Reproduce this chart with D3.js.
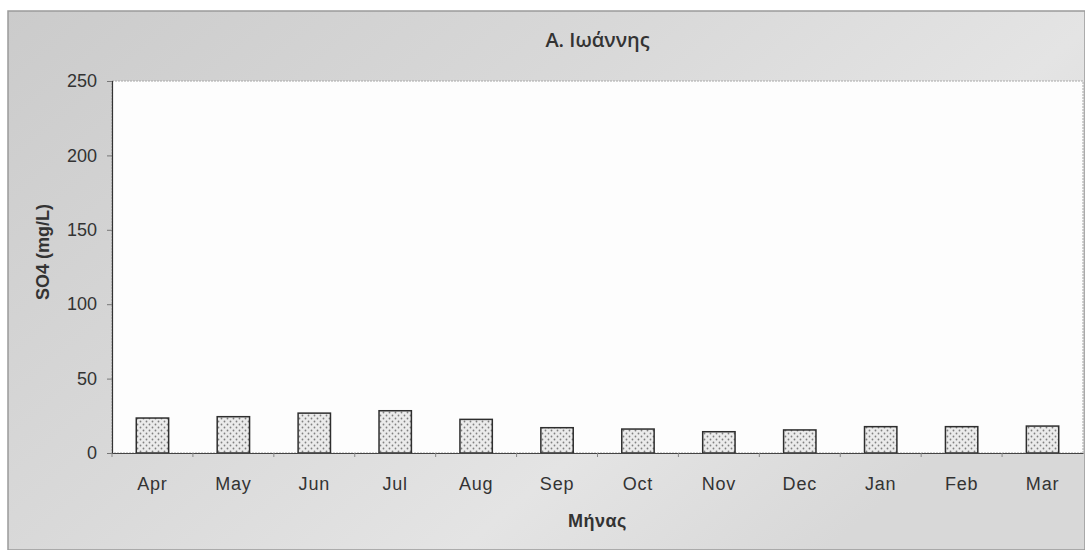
<!DOCTYPE html>
<html>
<head>
<meta charset="utf-8">
<script src="https://cdn.jsdelivr.net/npm/d3@7"></script>
<style>
  body { margin: 0; background: #fff; }
  svg { display: block; }
</style>
</head>
<body>
<svg id="chart" width="1085" height="550"></svg>
<script>
// data
var months = ["Apr", "May", "Jun", "Jul", "Aug", "Sep", "Oct", "Nov", "Dec", "Jan", "Feb", "Mar"];
var so4 = [23.5, 24.4, 26.8, 28.4, 22.6, 17.0, 16.1, 14.3, 15.5, 17.7, 17.7, 18.1];
var yTicks = [0, 50, 100, 150, 200, 250];
var chartTitle = "Α. Ιωάννης";
var xTitle = "Μήνας";
var yTitle = "SO4 (mg/L)";

var svg = d3.select("#chart");
var margin = { left: 112, top: 81, right: 2, bottom: 97 };
var width = 1085 - margin.left - margin.right;
var height = 550 - margin.top - margin.bottom;
var labelFont = "'Liberation Sans', Arial, sans-serif";

var defs = svg.append("defs");

/* scanned grey background */
var bg = defs.append("linearGradient")
    .attr("id", "bg-grad")
    .attr("x1", "0%").attr("y1", "0%")
    .attr("x2", "100%").attr("y2", "60%");
bg.append("stop").attr("offset", "0%").attr("stop-color", "#cbcbcb");
bg.append("stop").attr("offset", "45%").attr("stop-color", "#d9d9d9");
bg.append("stop").attr("offset", "75%").attr("stop-color", "#e4e4e4");
bg.append("stop").attr("offset", "100%").attr("stop-color", "#d8d8d8");

/* dotted bar fill */
var pat = defs.append("pattern")
    .attr("id", "dots")
    .attr("patternUnits", "userSpaceOnUse")
    .attr("width", 6).attr("height", 6);
pat.append("rect").attr("width", 6).attr("height", 6).attr("fill", "#ebebeb");
pat.append("circle").attr("cx", 1.5).attr("cy", 1.5).attr("r", 0.9).attr("fill", "#808080");
pat.append("circle").attr("cx", 4.5).attr("cy", 4.5).attr("r", 0.9).attr("fill", "#808080");

svg.append("rect")
    .attr("x", 8).attr("y", 11)
    .attr("width", 1085 - 8).attr("height", 550 - 11)
    .attr("fill", "url(#bg-grad)")
    .attr("stroke", "#9a9a9a")
    .attr("stroke-width", 1.5);

var g = svg.append("g")
    .attr("transform", "translate(" + margin.left + "," + margin.top + ")");

var x = d3.scaleBand()
    .domain(months)
    .range([0, width]);

var y = d3.scaleLinear()
    .domain([0, 250])
    .range([height, 0]);

var barW = x.bandwidth() / 2.5;

/* plot area */
g.append("rect")
    .attr("width", width).attr("height", height)
    .attr("fill", "#fdfdfd")
    .attr("stroke", "#a8a8a8")
    .attr("stroke-dasharray", "2,1")
    .attr("stroke-width", 1);

/* bars */
g.selectAll(".bar")
    .data(so4)
    .enter().append("rect")
    .attr("class", "bar")
    .attr("x", function (d, i) { return x(months[i]) + (x.bandwidth() - barW) / 2; })
    .attr("y", function (d) { return y(d); })
    .attr("width", barW)
    .attr("height", function (d) { return height - y(d); })
    .attr("fill", "url(#dots)")
    .attr("stroke", "#2e2e2e")
    .attr("stroke-width", 1.5);

/* y axis */
var yAxis = g.append("g")
    .call(d3.axisLeft(y)
        .tickValues(yTicks)
        .tickSize(5)
        .tickPadding(10));
yAxis.select(".domain").attr("stroke", "#333").attr("stroke-width", 1.2);
yAxis.selectAll(".tick line").attr("stroke", "#777");
yAxis.selectAll("text")
    .attr("fill", "#333")
    .style("font-family", labelFont)
    .style("font-size", "18px");

/* x axis */
var xAxis = g.append("g")
    .attr("transform", "translate(0," + height + ")")
    .call(d3.axisBottom(x).tickSize(0).tickPadding(24));
xAxis.select(".domain").attr("stroke", "#444").attr("stroke-width", 1.2);
xAxis.selectAll("text")
    .attr("fill", "#333")
    .style("font-family", labelFont)
    .style("font-size", "18px")
    .style("letter-spacing", "0.8px");

/* small tick marks between categories */
g.selectAll(".xtick")
    .data(months)
    .enter().append("line")
    .attr("class", "xtick")
    .attr("x1", function (d) { return x(d); })
    .attr("x2", function (d) { return x(d); })
    .attr("y1", height)
    .attr("y2", height + 4)
    .attr("stroke", "#888");

/* titles */
svg.append("text")
    .attr("x", margin.left + width / 2)
    .attr("y", 47)
    .attr("text-anchor", "middle")
    .attr("fill", "#333")
    .style("font-family", "'Open Sans', sans-serif")
    .style("font-weight", "600")
    .style("font-size", "20px")
    .text(chartTitle);

svg.append("text")
    .attr("x", margin.left + width / 2)
    .attr("y", 527)
    .attr("text-anchor", "middle")
    .attr("fill", "#333")
    .style("font-family", labelFont)
    .style("font-weight", "bold")
    .style("font-size", "18px")
    .style("letter-spacing", "0.5px")
    .text(xTitle);

svg.append("text")
    .attr("transform", "translate(49,252) rotate(-90)")
    .attr("text-anchor", "middle")
    .attr("fill", "#333")
    .style("font-family", labelFont)
    .style("font-weight", "bold")
    .style("font-size", "18px")
    .text(yTitle);
</script>
</body>
</html>
